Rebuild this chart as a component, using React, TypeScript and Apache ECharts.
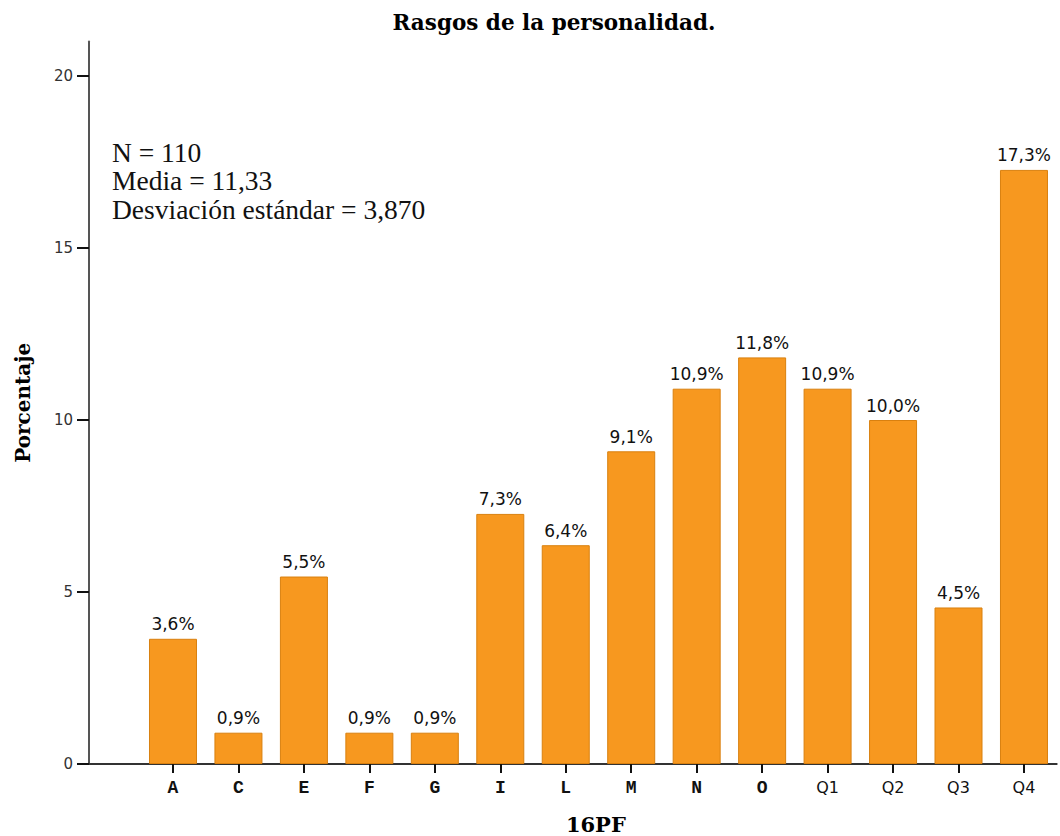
import React, { useEffect, useRef } from "react";
import * as echarts from "echarts";

const categories = ["A", "C", "E", "F", "G", "I", "L", "M", "N", "O", "Q1", "Q2", "Q3", "Q4"];
const percentages = [3.64, 0.91, 5.45, 0.91, 0.91, 7.27, 6.36, 9.09, 10.91, 11.82, 10.91, 10.0, 4.55, 17.27];
const yTicks = [0, 5, 10, 15, 20];
const statsLines = ["N = 110", "Media = 11,33", "Desviación estándar = 3,870"];
const titleText = "Rasgos de la personalidad.";
const xName = "16PF";
const yName = "Porcentaje";

export default function App() {
  const ref = useRef<HTMLDivElement>(null);
  useEffect(() => {
    document.body.style.margin = "0";
    const chart = echarts.init(ref.current!, null, { renderer: "svg" });
    const barData = percentages.map((v, i) => [i, v]);
    const idx = categories.map((_, i) => i);
    chart.setOption({
      animation: false,
      backgroundColor: "#ffffff",
      title: {
        text: titleText,
        left: 549,
        textAlign: "center",
        top: 6,
        textStyle: { fontFamily: "DejaVu Serif", fontWeight: "bold", fontSize: 21.5, color: "#000" },
      },
      grid: { left: 89, right: 3.3, top: 41.6, bottom: 72, containLabel: false, outerBoundsMode: "none" },
      xAxis: {
        type: "value",
        min: -1.283,
        max: 13.5,
        splitLine: { show: false },
        axisLine: { show: true, onZero: false, lineStyle: { color: "#333", width: 2 } },
        axisTick: { show: true, length: 9, lineStyle: { color: "#111", width: 2 }, customValues: idx },
        axisLabel: {
          customValues: idx,
          formatter: (v: number) => {
            const c = categories[Math.round(v)] ?? "";
            return c.length === 1 ? "{m|" + c + "}" : "{s|" + c + "}";
          },
          margin: 15,
          rich: {
            m: { fontFamily: "Liberation Mono", fontWeight: "bold", fontSize: 18, color: "#111" },
            s: { fontFamily: "DejaVu Sans", fontSize: 16, color: "#111" },
          },
        },
        name: xName,
        nameLocation: "middle",
        nameGap: 50,
        nameTextStyle: { fontFamily: "DejaVu Serif", fontWeight: "bold", fontSize: 21, color: "#000", padding: [0, 0, 0, 46] },
      },
      yAxis: {
        type: "value",
        min: 0,
        max: 21,
        splitLine: { show: false },
        axisLine: { show: true, onZero: false, lineStyle: { color: "#555", width: 2 } },
        axisTick: { show: true, length: 12, lineStyle: { color: "#111", width: 2 }, customValues: yTicks },
        axisLabel: {
          customValues: yTicks,
          fontFamily: "DejaVu Sans",
          fontSize: 15,
          color: "#333",
          margin: 16,
        },
        name: yName,
        nameLocation: "middle",
        nameGap: 56,
        nameRotate: 90,
        nameTextStyle: { fontFamily: "DejaVu Serif", fontWeight: "bold", fontSize: 20, color: "#000" },
      },
      graphic: [
        {
          type: "text",
          left: 112,
          top: 138,
          style: {
            text: statsLines.join("\n"),
            font: '27.5px "Liberation Serif"',
            lineHeight: 28.5,
            fill: "#111",
          },
        },
      ],
      series: [
        {
          type: "bar",
          data: barData,
          barWidth: 48,
          itemStyle: { color: "#F7981F", borderColor: "#D9800F", borderWidth: 1 },
          label: {
            show: true,
            position: "top",
            distance: 6,
            formatter: (p: any) => p.value[1].toFixed(1).replace(".", ",") + "%",
            fontFamily: "DejaVu Sans",
            fontSize: 17,
            color: "#111",
          },
        },
      ],
    });
    return () => chart.dispose();
  }, []);
  return <div ref={ref} style={{ position: "fixed", left: 0, top: 0, width: 1060, height: 836 }} />;
}
